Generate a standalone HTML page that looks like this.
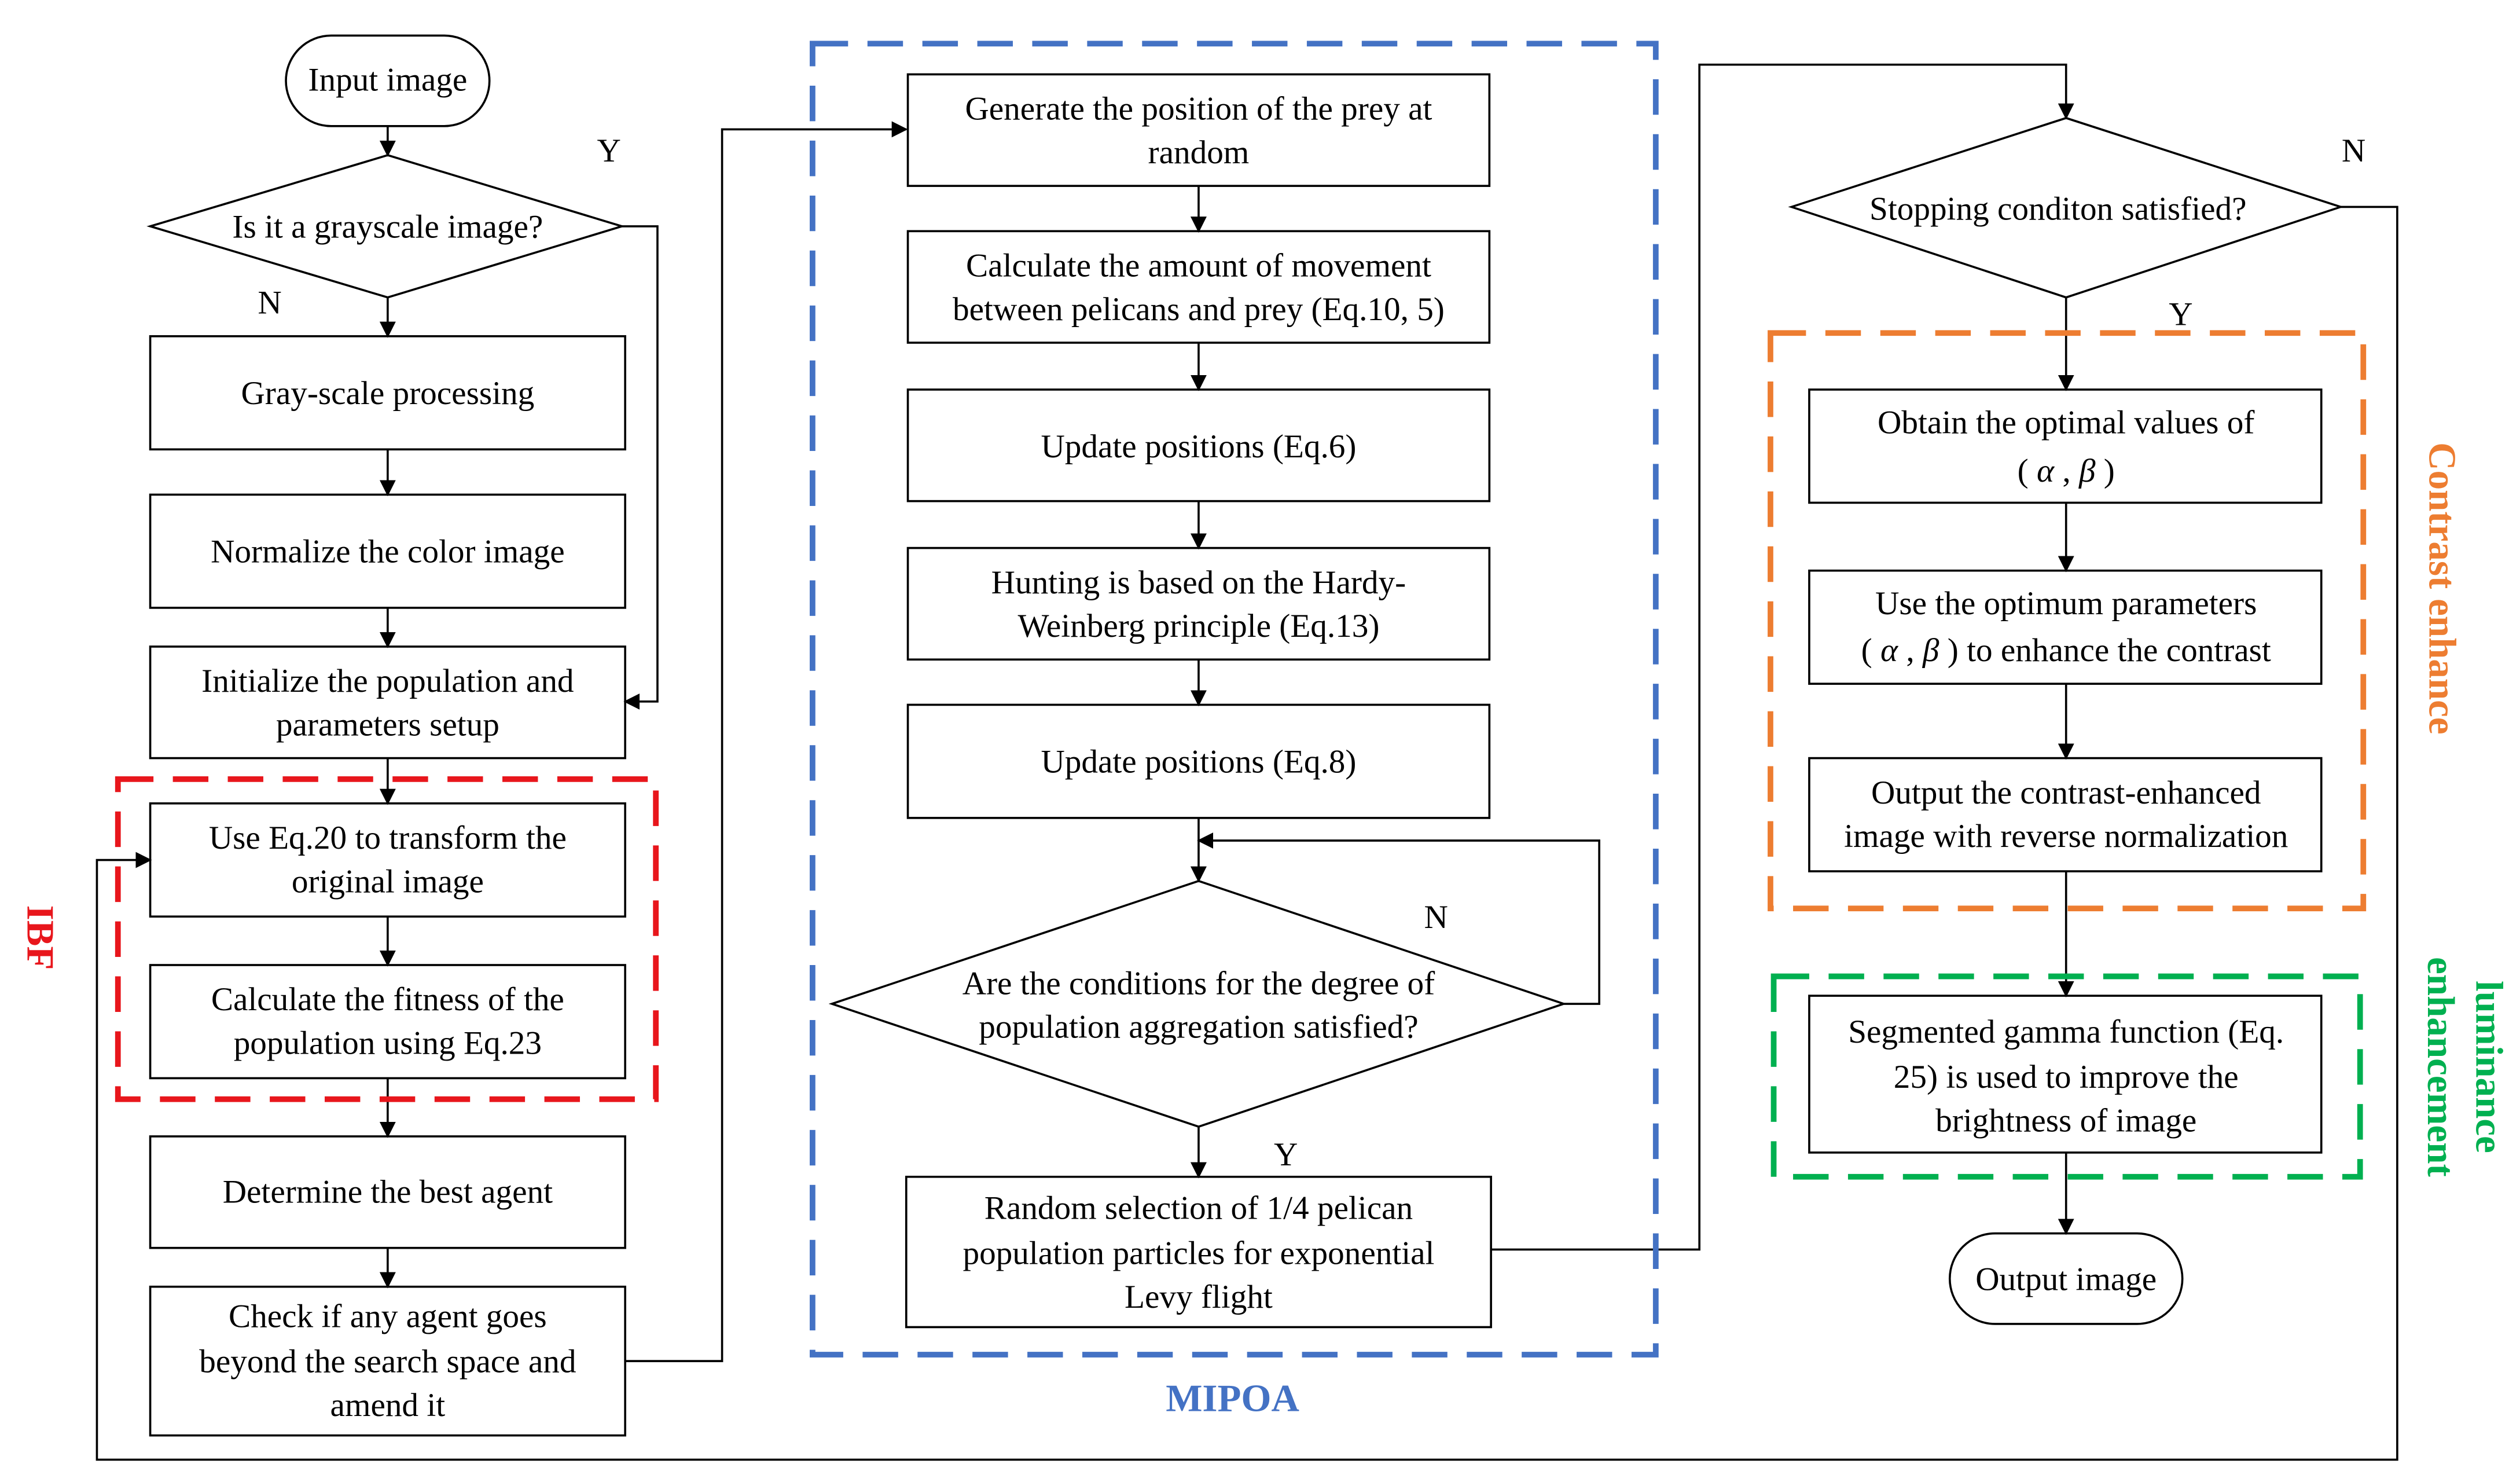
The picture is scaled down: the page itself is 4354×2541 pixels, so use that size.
<!DOCTYPE html>
<html><head><meta charset="utf-8"><style>html,body{margin:0;padding:0;background:#fff}svg{display:block}text{font-family:"Liberation Serif","DejaVu Serif",serif}</style></head><body>
<svg width="4354" height="2541" viewBox="0 0 1560 910" preserveAspectRatio="none" xmlns="http://www.w3.org/2000/svg" style="font-family:'Liberation Serif',serif" font-size="20.5">
<defs><marker id="a" markerWidth="10" markerHeight="10" refX="9" refY="5" orient="auto" markerUnits="userSpaceOnUse"><path d="M0,0 L10,5 L0,10 z" fill="#000"/></marker></defs>
<g fill="none" stroke="#000" stroke-width="1.3">
<rect x="177" y="22" width="126" height="56" rx="28"/>
<polygon points="93,140 240,96 385,140 240,184"/>
<rect x="93" y="208" width="294" height="70"/>
<rect x="93" y="306" width="294" height="70"/>
<rect x="93" y="400" width="294" height="69"/>
<rect x="93" y="497" width="294" height="70"/>
<rect x="93" y="597" width="294" height="70"/>
<rect x="93" y="703" width="294" height="69"/>
<rect x="93" y="796" width="294" height="92"/>
<rect x="562" y="46" width="360" height="69"/>
<rect x="562" y="143" width="360" height="69"/>
<rect x="562" y="241" width="360" height="69"/>
<rect x="562" y="339" width="360" height="69"/>
<rect x="562" y="436" width="360" height="70"/>
<polygon points="515,621 742,545 968,621 742,697"/>
<rect x="561" y="728" width="362" height="93"/>
<polygon points="1109,128 1279,73 1449,128 1279,184"/>
<rect x="1120" y="241" width="317" height="70"/>
<rect x="1120" y="353" width="317" height="70"/>
<rect x="1120" y="469" width="317" height="70"/>
<rect x="1120" y="616" width="317" height="97"/>
<rect x="1207" y="763" width="144" height="56" rx="28"/>
<g marker-end="url(#a)">
<path d="M240,78V96"/><path d="M240,184V208"/><path d="M240,278V306"/><path d="M240,376V400"/><path d="M240,469V497"/><path d="M240,567V597"/><path d="M240,667V703"/><path d="M240,772V796"/>
<path d="M385,140H407V434H387"/>
<path d="M387,842H447V80H561"/>
<path d="M1449,128H1484V903H60V532H93"/>
<path d="M742,115V143"/><path d="M742,212V241"/><path d="M742,310V339"/><path d="M742,408V436"/><path d="M742,506V545"/>
<path d="M968,621H990V520H742"/>
<path d="M742,697V728"/>
<path d="M923,773H1052V40H1279V73"/>
<path d="M1279,184V241"/><path d="M1279,311V353"/><path d="M1279,423V469"/><path d="M1279,539V616"/><path d="M1279,713V763"/>
</g>
</g>
<g fill="none" stroke-width="3.5" stroke-dasharray="22,12">
<rect x="73" y="482" width="333" height="198" stroke="#e8161c"/>
<rect x="503" y="27" width="522" height="811" stroke="#4472c4"/>
<rect x="1096" y="206" width="367" height="356" stroke="#ed7d31"/>
<rect x="1098" y="604" width="363" height="124" stroke="#00b050"/>
</g>
<g text-anchor="middle" fill="#000">
<text x="240" y="56">Input image</text>
<text x="240" y="147">Is it a grayscale image?</text>
<text x="240" y="250">Gray-scale processing</text>
<text x="240" y="348">Normalize the color image</text>
<text x="240" y="428">Initialize the population and</text><text x="240" y="455">parameters setup</text>
<text x="240" y="525">Use Eq.20 to transform the</text><text x="240" y="552">original image</text>
<text x="240" y="625">Calculate the fitness of  the</text><text x="240" y="652">population using Eq.23</text>
<text x="240" y="744">Determine the best agent</text>
<text x="240" y="821">Check if any agent goes</text><text x="240" y="849">beyond the search space and</text><text x="240" y="876">amend it</text>
<text x="742" y="74">Generate the position of the prey at</text><text x="742" y="101">random</text>
<text x="742" y="171">Calculate the amount of movement</text><text x="742" y="198">between pelicans and prey (Eq.10, 5)</text>
<text x="742" y="283">Update positions (Eq.6)</text>
<text x="742" y="367">Hunting is based on the Hardy-</text><text x="742" y="394">Weinberg principle (Eq.13)</text>
<text x="742" y="478">Update positions (Eq.8)</text>
<text x="742" y="615">Are the conditions for the degree of</text><text x="742" y="642">population aggregation satisfied?</text>
<text x="742" y="754">Random selection of 1/4 pelican</text><text x="742" y="782">population particles for exponential</text><text x="742" y="809">Levy flight</text>
<text x="1274" y="136">Stopping conditon satisfied?</text>
<text x="1279" y="268">Obtain the optimal values of</text><text x="1279" y="298">( <tspan font-style="italic">α</tspan> , <tspan font-style="italic">β</tspan> )</text>
<text x="1279" y="380">Use the optimum parameters</text><text x="1279" y="409">( <tspan font-style="italic">α</tspan> , <tspan font-style="italic">β</tspan> ) to enhance the contrast</text>
<text x="1279" y="497">Output the contrast-enhanced</text><text x="1279" y="524">image with reverse normalization</text>
<text x="1279" y="645">Segmented gamma function (Eq.</text><text x="1279" y="673">25) is used to improve the</text><text x="1279" y="700">brightness of image</text>
<text x="1279" y="798">Output image</text>
<text x="377" y="100">Y</text><text x="167" y="194">N</text>
<text x="889" y="574">N</text><text x="796" y="721">Y</text>
<text x="1457" y="100">N</text><text x="1350" y="201">Y</text>
<text x="763" y="873" font-size="24" font-weight="bold" fill="#4472c4">MIPOA</text>
<text transform="translate(17,580) rotate(90)" font-size="24" font-weight="bold" fill="#e8161c">IBF</text>
<text transform="translate(1504,364) rotate(90)" font-size="24" font-weight="bold" fill="#ed7d31">Contrast enhance</text>
<text transform="translate(1533,660) rotate(90)" font-size="24" font-weight="bold" fill="#00b050">luminance</text>
<text transform="translate(1503,660) rotate(90)" font-size="24" font-weight="bold" fill="#00b050">enhancement</text>
</g>
</svg>
</body></html>
